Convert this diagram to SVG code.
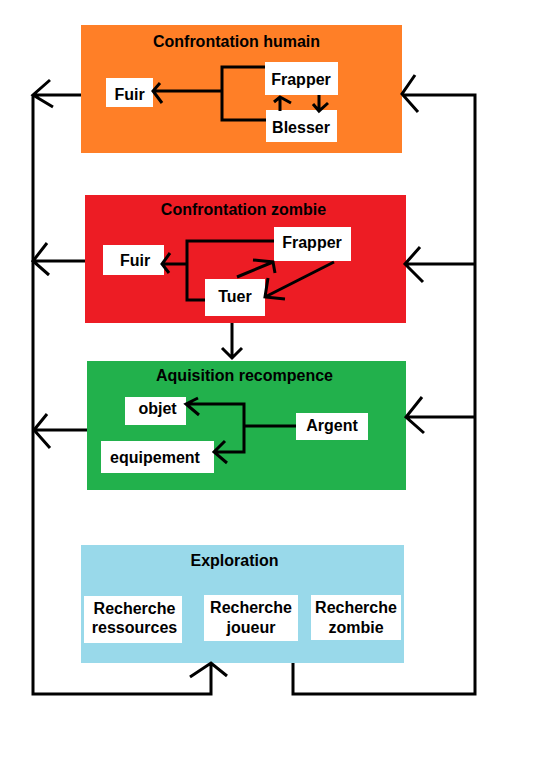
<svg xmlns="http://www.w3.org/2000/svg" width="540" height="760" viewBox="0 0 540 760">
<style>
.t{font-family:"Liberation Sans",Arial,sans-serif;font-weight:bold;font-size:16px;fill:#000;text-anchor:middle}
.w{fill:#fff}
.c{fill:none;stroke:#000;stroke-width:3;stroke-linejoin:miter}
</style>
<rect width="540" height="760" fill="#fff"/>
<g id="confrontation-humain">
<rect x="81" y="25" width="321" height="128" fill="#FF7F27"/>
<text class="t" x="236.5" y="47">Confrontation humain</text>
<rect class="w" x="106" y="78" width="47" height="29"/>
<text class="t" x="129.5" y="100">Fuir</text>
<rect class="w" x="265" y="62" width="73" height="33"/>
<text class="t" x="301" y="85">Frapper</text>
<rect class="w" x="266" y="110" width="71" height="32"/>
<text class="t" x="301" y="133">Blesser</text>
<path class="c" d="M265 67H222V120H266M222 91H153M160 83L153 91L162 103M280 111V97M274 102L280 97L291 103M319 95V111M313 104L319 111L328 103"/>
</g>
<g id="confrontation-zombie">
<rect x="85" y="195" width="321" height="128" fill="#ED1C24"/>
<text class="t" x="243.5" y="215">Confrontation zombie</text>
<rect class="w" x="103" y="245" width="61" height="30"/>
<text class="t" x="135" y="266">Fuir</text>
<rect class="w" x="274" y="227" width="77" height="34"/>
<text class="t" x="312" y="248">Frapper</text>
<rect class="w" x="205" y="279" width="60" height="37"/>
<text class="t" x="235" y="302">Tuer</text>
<path class="c" d="M274 241H187V300H205M187 264H162M170 253L162 264L169 273M237 277L273 262M253 260L273 262L275 273M334 262L265 297M268 278L265 297L285 299"/>
</g>
<g id="aquisition-recompence">
<rect x="87" y="361" width="319" height="129" fill="#22B14C"/>
<text class="t" x="244.5" y="381">Aquisition recompence</text>
<rect class="w" x="125" y="397" width="61" height="28"/>
<text class="t" x="157.5" y="414">objet</text>
<rect class="w" x="296" y="413" width="72" height="27"/>
<text class="t" x="332" y="431">Argent</text>
<rect class="w" x="101" y="441" width="113" height="32"/>
<text class="t" x="155" y="463">equipement</text>
<path class="c" d="M186 404H244V452H214M198 398L186 404L199 415M225 441L214 452L227 463M244 426H296"/>
</g>
<g id="exploration">
<rect x="81" y="545" width="323" height="118" fill="#99D9EA"/>
<text class="t" x="234.5" y="566">Exploration</text>
<rect class="w" x="84" y="596" width="98" height="47"/>
<text class="t" x="134.5" y="614">Recherche</text>
<text class="t" x="134.5" y="633">ressources</text>
<rect class="w" x="204" y="595" width="94" height="46"/>
<text class="t" x="251" y="613">Recherche</text>
<text class="t" x="251" y="633">joueur</text>
<rect class="w" x="311" y="595" width="90" height="45"/>
<text class="t" x="356" y="613">Recherche</text>
<text class="t" x="356" y="633">zombie</text>
</g>
<g id="connectors">
<path class="c" d="M81 95H33M50 80L33 95L53 107"/>
<path class="c" d="M85 261H33M47 243L33 261L49 275"/>
<path class="c" d="M87 430H34M47 414L34 430L50 448"/>
<path class="c" d="M33 95V694H211V663M190 677L211 663L227 676"/>
<path class="c" d="M293 663V694H475V95H402M415 75L402 94L418 112"/>
<path class="c" d="M474 264H405M420 247L405 264L423 282"/>
<path class="c" d="M474 417H406M422 397L406 417L424 433"/>
<path class="c" d="M232 323V358M222 348L232 358L242 348"/>
</g>
</svg>
